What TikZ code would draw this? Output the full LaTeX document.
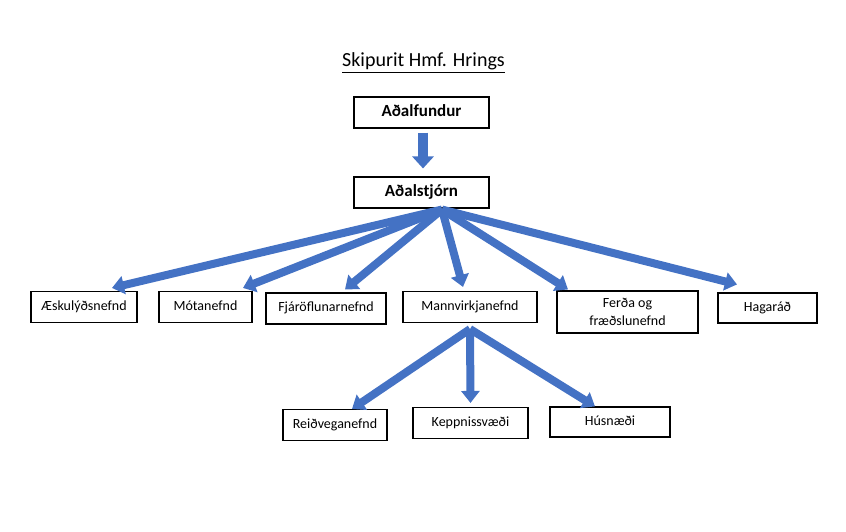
\documentclass[tikz,border=0pt]{standalone}
\usepackage{fontspec}
\setmainfont{Carlito}
\usetikzlibrary{arrows.meta}
\definecolor{pilblar}{HTML}{4472C4}

\begin{document}
\begin{tikzpicture}[x=1pt, y=-1pt,
  box/.style={draw, line width=1.1pt, inner sep=2pt, font=\fontsize{14}{18}\selectfont},
  nefnd/.style={box, minimum height=31pt, text height=10pt, text depth=4pt},
  yfir/.style={box, minimum width=135pt, minimum height=31pt, text height=12pt, text depth=4pt, font=\fontsize{17}{20}\selectfont\bfseries},
  pil/.style={draw=pilblar, line width=8pt, -{Triangle[width=18pt, length=12pt]}}]
  \useasboundingbox (0,0) rectangle (846,532);
  \node[anchor=base, font=\fontsize{20}{24}\selectfont] (titill) at (423.5,67) {\underline{Skipurit Hmf. Hrings}};
  \node[yfir] (fund) at (421.5,112.5) {Aðalfundur};
  \node[yfir] (stjorn) at (421.5,192.5) {Aðalstjórn};
  \node[nefnd, minimum width=106pt] (ask) at (84,307) {Æskulýðsnefnd};
  \node[nefnd, minimum width=93pt] (mot) at (205.5,307) {Mótanefnd};
  \node[nefnd, minimum width=120pt] (fjar) at (326,308.5) {Fjáröflunarnefnd};
  \node[nefnd, minimum width=134pt] (mann) at (470,307) {Mannvirkjanefnd};
  \node[box, align=center, minimum width=141pt, minimum height=42pt] (ferd) at (627.5,312) {Ferða og\\fræðslunefnd};
  \node[nefnd, minimum width=99pt, minimum height=30pt] (haga) at (767.5,308) {Hagaráð};
  \node[nefnd, minimum width=104pt] (reid) at (335,425) {Reiðveganefnd};
  \node[nefnd, minimum width=115pt] (kepp) at (470.5,423) {Keppnissvæði};
  \node[nefnd, minimum width=120pt, minimum height=30pt] (hus) at (610,422) {Húsnæði};
  \coordinate (hub) at ([xshift=20.5pt,yshift=-1pt]stjorn.south);
  \coordinate (mhub) at ([yshift=-6pt]mann.south);
  \draw[pil, line width=10pt, -{Triangle[width=21pt, length=12pt]}] ([xshift=1.5pt,yshift=-4pt]fund.south) -- ([xshift=1.5pt,yshift=8pt]stjorn.north);
  \draw[pil] (hub) -- ([xshift=28pt,yshift=3pt]ask.north);
  \draw[pil] (hub) -- ([xshift=37.5pt,yshift=3pt]mot.north);
  \draw[pil] (hub) -- ([xshift=19pt,yshift=3pt]fjar.north);
  \draw[pil] (hub) -- ([xshift=-7pt,yshift=4pt]mann.north);
  \draw[pil] (hub) -- ([xshift=-59.5pt,yshift=1pt]ferd.north);
  \draw[pil] (hub) -- ([xshift=-30.5pt,yshift=8pt]haga.north);
  \draw[pil] (mhub) -- ([xshift=17pt]reid.north);
  \draw[pil] (mhub) -- ([yshift=4pt]kepp.north);
  \draw[pil] (mhub) -- ([xshift=-15pt]hus.north);
\end{tikzpicture}
\end{document}
